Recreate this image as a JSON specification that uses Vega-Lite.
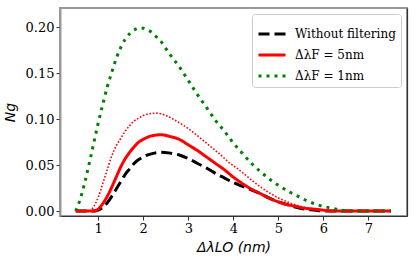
{
  "$schema": "https://vega.github.io/schema/vega-lite/v6.json",
  "autosize": {"type": "none"},
  "padding": {"left": 60, "top": 8, "right": 8, "bottom": 43},
  "width": 347,
  "height": 208,
  "config": {
    "font": "DejaVu Serif",
    "view": {"stroke": "#999999", "strokeWidth": 2},
    "axis": {"grid": false, "labelFont": "DejaVu Serif", "labelFontSize": 13, "labelColor": "#000", "tickColor": "#333", "tickSize": 4, "tickWidth": 1, "labelPadding": 2, "titleFont": "DejaVu Sans", "titleFontStyle": "italic", "titleFontWeight": "normal", "titleColor": "#000"},
    "legend": {"orient": "top-right", "offset": 6, "padding": 5, "strokeColor": "#cccccc", "fillColor": "rgba(255,255,255,0.85)", "cornerRadius": 3, "symbolType": "stroke", "symbolStrokeWidth": 3, "symbolSize": 729, "labelFont": "DejaVu Serif", "labelFontSize": 12, "labelColor": "#000", "labelLimit": 200, "labelOffset": 8, "rowPadding": 0}
  },
  "datasets": {
    "d": [
      {"s": "Without filtering", "x": 0.5, "y": 0},
      {"s": "Without filtering", "x": 0.9, "y": 0},
      {"s": "Without filtering", "x": 1.0, "y": 0.001},
      {"s": "Without filtering", "x": 1.1, "y": 0.004},
      {"s": "Without filtering", "x": 1.2, "y": 0.009},
      {"s": "Without filtering", "x": 1.3, "y": 0.016},
      {"s": "Without filtering", "x": 1.4, "y": 0.024},
      {"s": "Without filtering", "x": 1.5, "y": 0.032},
      {"s": "Without filtering", "x": 1.6, "y": 0.040},
      {"s": "Without filtering", "x": 1.7, "y": 0.046},
      {"s": "Without filtering", "x": 1.8, "y": 0.052},
      {"s": "Without filtering", "x": 1.9, "y": 0.056},
      {"s": "Without filtering", "x": 2.0, "y": 0.059},
      {"s": "Without filtering", "x": 2.2, "y": 0.0625},
      {"s": "Without filtering", "x": 2.4, "y": 0.064},
      {"s": "Without filtering", "x": 2.6, "y": 0.063},
      {"s": "Without filtering", "x": 2.8, "y": 0.061},
      {"s": "Without filtering", "x": 3.0, "y": 0.057},
      {"s": "Without filtering", "x": 3.2, "y": 0.052},
      {"s": "Without filtering", "x": 3.4, "y": 0.047},
      {"s": "Without filtering", "x": 3.6, "y": 0.041},
      {"s": "Without filtering", "x": 3.8, "y": 0.036},
      {"s": "Without filtering", "x": 4.0, "y": 0.031},
      {"s": "Without filtering", "x": 4.2, "y": 0.027},
      {"s": "Without filtering", "x": 4.4, "y": 0.023},
      {"s": "Without filtering", "x": 4.6, "y": 0.019},
      {"s": "Without filtering", "x": 4.8, "y": 0.014},
      {"s": "Without filtering", "x": 5.0, "y": 0.010},
      {"s": "Without filtering", "x": 5.2, "y": 0.007},
      {"s": "Without filtering", "x": 5.4, "y": 0.004},
      {"s": "Without filtering", "x": 5.6, "y": 0.002},
      {"s": "Without filtering", "x": 5.8, "y": 0.001},
      {"s": "Without filtering", "x": 6.0, "y": 0},
      {"s": "Without filtering", "x": 7.5, "y": 0},
      {"s": "ΔλF = 5nm", "x": 0.5, "y": 0},
      {"s": "ΔλF = 5nm", "x": 0.9, "y": 0},
      {"s": "ΔλF = 5nm", "x": 1.0, "y": 0.002},
      {"s": "ΔλF = 5nm", "x": 1.1, "y": 0.008},
      {"s": "ΔλF = 5nm", "x": 1.2, "y": 0.016},
      {"s": "ΔλF = 5nm", "x": 1.3, "y": 0.026},
      {"s": "ΔλF = 5nm", "x": 1.4, "y": 0.037},
      {"s": "ΔλF = 5nm", "x": 1.5, "y": 0.048},
      {"s": "ΔλF = 5nm", "x": 1.6, "y": 0.057},
      {"s": "ΔλF = 5nm", "x": 1.7, "y": 0.064},
      {"s": "ΔλF = 5nm", "x": 1.8, "y": 0.070},
      {"s": "ΔλF = 5nm", "x": 1.9, "y": 0.075},
      {"s": "ΔλF = 5nm", "x": 2.0, "y": 0.078},
      {"s": "ΔλF = 5nm", "x": 2.2, "y": 0.082},
      {"s": "ΔλF = 5nm", "x": 2.4, "y": 0.083},
      {"s": "ΔλF = 5nm", "x": 2.6, "y": 0.081},
      {"s": "ΔλF = 5nm", "x": 2.8, "y": 0.078},
      {"s": "ΔλF = 5nm", "x": 3.0, "y": 0.072},
      {"s": "ΔλF = 5nm", "x": 3.2, "y": 0.066},
      {"s": "ΔλF = 5nm", "x": 3.4, "y": 0.059},
      {"s": "ΔλF = 5nm", "x": 3.6, "y": 0.052},
      {"s": "ΔλF = 5nm", "x": 3.8, "y": 0.045},
      {"s": "ΔλF = 5nm", "x": 4.0, "y": 0.037},
      {"s": "ΔλF = 5nm", "x": 4.2, "y": 0.030},
      {"s": "ΔλF = 5nm", "x": 4.4, "y": 0.024},
      {"s": "ΔλF = 5nm", "x": 4.6, "y": 0.019},
      {"s": "ΔλF = 5nm", "x": 4.8, "y": 0.014},
      {"s": "ΔλF = 5nm", "x": 5.0, "y": 0.010},
      {"s": "ΔλF = 5nm", "x": 5.2, "y": 0.007},
      {"s": "ΔλF = 5nm", "x": 5.4, "y": 0.005},
      {"s": "ΔλF = 5nm", "x": 5.6, "y": 0.003},
      {"s": "ΔλF = 5nm", "x": 5.8, "y": 0.002},
      {"s": "ΔλF = 5nm", "x": 6.0, "y": 0.001},
      {"s": "ΔλF = 5nm", "x": 6.2, "y": 0},
      {"s": "ΔλF = 5nm", "x": 7.5, "y": 0},
      {"s": "ΔλF = 1nm", "x": 0.5, "y": 0},
      {"s": "ΔλF = 1nm", "x": 0.6, "y": 0.013},
      {"s": "ΔλF = 1nm", "x": 0.7, "y": 0.031},
      {"s": "ΔλF = 1nm", "x": 0.8, "y": 0.052},
      {"s": "ΔλF = 1nm", "x": 0.9, "y": 0.074},
      {"s": "ΔλF = 1nm", "x": 1.0, "y": 0.096},
      {"s": "ΔλF = 1nm", "x": 1.1, "y": 0.116},
      {"s": "ΔλF = 1nm", "x": 1.2, "y": 0.135},
      {"s": "ΔλF = 1nm", "x": 1.3, "y": 0.151},
      {"s": "ΔλF = 1nm", "x": 1.4, "y": 0.166},
      {"s": "ΔλF = 1nm", "x": 1.5, "y": 0.178},
      {"s": "ΔλF = 1nm", "x": 1.6, "y": 0.187},
      {"s": "ΔλF = 1nm", "x": 1.7, "y": 0.193},
      {"s": "ΔλF = 1nm", "x": 1.8, "y": 0.197},
      {"s": "ΔλF = 1nm", "x": 1.9, "y": 0.199},
      {"s": "ΔλF = 1nm", "x": 2.0, "y": 0.199},
      {"s": "ΔλF = 1nm", "x": 2.1, "y": 0.197},
      {"s": "ΔλF = 1nm", "x": 2.2, "y": 0.194},
      {"s": "ΔλF = 1nm", "x": 2.3, "y": 0.189},
      {"s": "ΔλF = 1nm", "x": 2.4, "y": 0.184},
      {"s": "ΔλF = 1nm", "x": 2.5, "y": 0.177},
      {"s": "ΔλF = 1nm", "x": 2.6, "y": 0.170},
      {"s": "ΔλF = 1nm", "x": 2.8, "y": 0.157},
      {"s": "ΔλF = 1nm", "x": 3.0, "y": 0.142},
      {"s": "ΔλF = 1nm", "x": 3.2, "y": 0.127},
      {"s": "ΔλF = 1nm", "x": 3.4, "y": 0.113},
      {"s": "ΔλF = 1nm", "x": 3.6, "y": 0.099},
      {"s": "ΔλF = 1nm", "x": 3.8, "y": 0.087},
      {"s": "ΔλF = 1nm", "x": 4.0, "y": 0.074},
      {"s": "ΔλF = 1nm", "x": 4.2, "y": 0.063},
      {"s": "ΔλF = 1nm", "x": 4.4, "y": 0.052},
      {"s": "ΔλF = 1nm", "x": 4.6, "y": 0.043},
      {"s": "ΔλF = 1nm", "x": 4.8, "y": 0.035},
      {"s": "ΔλF = 1nm", "x": 5.0, "y": 0.028},
      {"s": "ΔλF = 1nm", "x": 5.2, "y": 0.022},
      {"s": "ΔλF = 1nm", "x": 5.4, "y": 0.017},
      {"s": "ΔλF = 1nm", "x": 5.6, "y": 0.012},
      {"s": "ΔλF = 1nm", "x": 5.8, "y": 0.008},
      {"s": "ΔλF = 1nm", "x": 6.0, "y": 0.005},
      {"s": "ΔλF = 1nm", "x": 6.2, "y": 0.003},
      {"s": "ΔλF = 1nm", "x": 6.4, "y": 0.001},
      {"s": "ΔλF = 1nm", "x": 6.6, "y": 0},
      {"s": "ΔλF = 1nm", "x": 7.5, "y": 0},
      {"s": "dotted", "x": 0.5, "y": 0},
      {"s": "dotted", "x": 0.8, "y": 0},
      {"s": "dotted", "x": 0.9, "y": 0.005},
      {"s": "dotted", "x": 1.0, "y": 0.015},
      {"s": "dotted", "x": 1.1, "y": 0.030},
      {"s": "dotted", "x": 1.2, "y": 0.045},
      {"s": "dotted", "x": 1.3, "y": 0.060},
      {"s": "dotted", "x": 1.4, "y": 0.071},
      {"s": "dotted", "x": 1.5, "y": 0.079},
      {"s": "dotted", "x": 1.6, "y": 0.087},
      {"s": "dotted", "x": 1.7, "y": 0.093},
      {"s": "dotted", "x": 1.8, "y": 0.098},
      {"s": "dotted", "x": 1.9, "y": 0.101},
      {"s": "dotted", "x": 2.0, "y": 0.104},
      {"s": "dotted", "x": 2.1, "y": 0.1055},
      {"s": "dotted", "x": 2.3, "y": 0.1065},
      {"s": "dotted", "x": 2.5, "y": 0.104},
      {"s": "dotted", "x": 2.7, "y": 0.099},
      {"s": "dotted", "x": 2.9, "y": 0.093},
      {"s": "dotted", "x": 3.1, "y": 0.086},
      {"s": "dotted", "x": 3.3, "y": 0.078},
      {"s": "dotted", "x": 3.5, "y": 0.070},
      {"s": "dotted", "x": 3.7, "y": 0.062},
      {"s": "dotted", "x": 3.9, "y": 0.053},
      {"s": "dotted", "x": 4.1, "y": 0.046},
      {"s": "dotted", "x": 4.3, "y": 0.038},
      {"s": "dotted", "x": 4.5, "y": 0.030},
      {"s": "dotted", "x": 4.7, "y": 0.023},
      {"s": "dotted", "x": 4.9, "y": 0.017},
      {"s": "dotted", "x": 5.1, "y": 0.012},
      {"s": "dotted", "x": 5.3, "y": 0.008},
      {"s": "dotted", "x": 5.5, "y": 0.005},
      {"s": "dotted", "x": 5.7, "y": 0.003},
      {"s": "dotted", "x": 5.9, "y": 0.0015},
      {"s": "dotted", "x": 6.1, "y": 0.0005},
      {"s": "dotted", "x": 6.3, "y": 0},
      {"s": "dotted", "x": 7.5, "y": 0}
    ]
  },
  "data": {"name": "d"},
  "resolve": {"axis": {"y": "independent"}},
  "layer": [
    {
      "transform": [{"filter": "datum.s !== 'dotted'"}],
      "mark": {"type": "line", "strokeWidth": 3, "interpolate": "monotone", "clip": true},
      "encoding": {
        "x": {"field": "x", "type": "quantitative", "scale": {"domain": [0.15, 7.86], "nice": false, "zero": false},
          "axis": {"values": [1, 2, 3, 4, 5, 6, 7], "format": "d", "labelFont": "DejaVu Serif", "labelFontSize": 13, "title": "ΔλLO (nm)", "titleFontSize": 14, "titlePadding": 5, "domainColor": "#333", "domainWidth": 1.2}},
        "y": {"field": "y", "type": "quantitative", "scale": {"domain": [-0.0054, 0.2209], "nice": false, "zero": false},
          "axis": {"values": [0, 0.05, 0.1, 0.15, 0.2], "format": ".2f", "labelFont": "DejaVu Serif", "labelFontSize": 13, "title": "Ng", "titleFontSize": 14, "titlePadding": 8, "domainColor": "#999", "domainWidth": 2}},
        "color": {"field": "s", "type": "nominal",
          "scale": {"domain": ["Without filtering", "ΔλF = 5nm", "ΔλF = 1nm"], "range": ["#000000", "#ff0000", "#008000"]},
          "legend": {"title": null, "orient": "top-right"}},
        "strokeDash": {"field": "s", "type": "nominal",
          "scale": {"domain": ["Without filtering", "ΔλF = 5nm", "ΔλF = 1nm"], "range": [[11, 5], [1, 0], [3, 5]]},
          "legend": {"title": null, "orient": "top-right"}}
      }
    },
    {
      "transform": [{"filter": "datum.s === 'dotted'"}],
      "mark": {"type": "line", "color": "#ff0000", "strokeWidth": 1.6, "strokeDash": [1.6, 1.8], "interpolate": "monotone", "clip": true},
      "encoding": {
        "x": {"field": "x", "type": "quantitative", "scale": {"domain": [0.15, 7.86], "nice": false, "zero": false}},
        "y": {"field": "y", "type": "quantitative", "scale": {"domain": [-0.0054, 0.2209], "nice": false, "zero": false},
          "axis": {"orient": "right", "labels": false, "ticks": false, "title": null, "domainColor": "#333", "domainWidth": 1.2}}
      }
    }
  ]
}
